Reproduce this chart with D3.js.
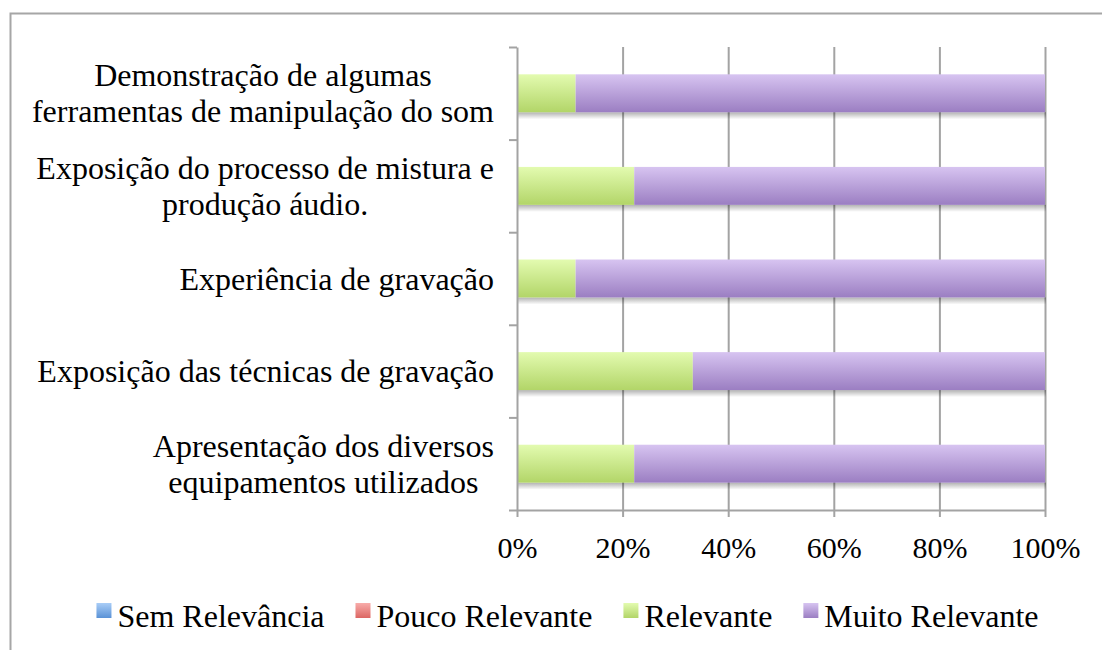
<!DOCTYPE html>
<meta charset="utf-8">
<script src="https://d3js.org/d3.v7.min.js"></script>
<style>
  body { margin: 0; background: #fff; }
</style>
<div id="chart"></div>
<script>

// data (percent of answers)
var categories = [
  "Demonstração de algumas|ferramentas de manipulação do som",
  "Exposição do processo de mistura e|produção áudio.",
  "Experiência de gravação",
  "Exposição das técnicas de gravação",
  "Apresentação dos diversos|equipamentos utilizados"
];
var seriesNames = ["Sem Relevância", "Pouco Relevante", "Relevante", "Muito Relevante"];
var semRelevancia = [0, 0, 0, 0, 0];
var poucoRelevante = [0, 0, 0, 0, 0];
var relevante = [11.1, 22.2, 11.1, 33.3, 22.2];
var muitoRelevante = [88.9, 77.8, 88.9, 66.7, 77.8];
var xTicks = [0, 20, 40, 60, 80, 100];

var FONT = "Liberation Serif";

// gradient stops (top, bottom) per series
var grads = [
  ["#a9cdf7", "#5a92d6"],
  ["#f8acaa", "#dc6663"],
  ["#e3fbb0", "#b2d568"],
  ["#d7c4f1", "#9b7ec2"]
];

var W = 1102, H = 650;
var margin = {top: 47, right: 57, bottom: 140, left: 517};
var width = W - margin.left - margin.right,
    height = H - margin.top - margin.bottom;

var svg = d3.select("#chart").append("svg")
  .attr("width", W).attr("height", H)
  .style("font-family", FONT);

var defs = svg.append("defs");
grads.forEach(function(g, i) {
  var lg = defs.append("linearGradient").attr("id", "g" + i)
    .attr("x1", 0).attr("y1", 0).attr("x2", 0).attr("y2", 1);
  lg.append("stop").attr("offset", "0%").attr("stop-color", g[0]);
  lg.append("stop").attr("offset", "100%").attr("stop-color", g[1]);
});
// soft shadow under the bars
var sh = defs.append("linearGradient").attr("id", "shade")
  .attr("x1", 0).attr("y1", 0).attr("x2", 0).attr("y2", 1);
sh.append("stop").attr("offset", "0%").attr("stop-color", "#000").attr("stop-opacity", 0.3);
sh.append("stop").attr("offset", "100%").attr("stop-color", "#000").attr("stop-opacity", 0);

// outer frame
svg.append("rect")
  .attr("x", 10.5).attr("y", 13.5).attr("width", 1200).attr("height", 800)
  .attr("fill", "none").attr("stroke", "#a6a6a6").attr("stroke-width", 2);

var g = svg.append("g")
  .attr("transform", "translate(" + margin.left + "," + margin.top + ")");

var x = d3.scaleLinear().domain([0, 100]).range([0, width]);
var y = d3.scaleBand().domain(categories).range([0, height])
  .paddingInner(0.59).paddingOuter(0.295);
var yEdge = d3.scaleLinear().domain([0, categories.length]).range([0, height]);

// gridlines
g.append("g")
  .call(d3.axisBottom(x).tickValues(xTicks.slice(1)).tickSize(height).tickFormat(""))
  .call(function(s) { s.select(".domain").remove(); })
  .selectAll("line").attr("stroke", "#a3a3a3").attr("stroke-width", 2);

// stacked bars
var table = categories.map(function(c, i) {
  return {cat: c, s0: semRelevancia[i], s1: poucoRelevante[i], s2: relevante[i], s3: muitoRelevante[i]};
});
var stack = d3.stack().keys(["s0", "s1", "s2", "s3"])(table);

// shadow strip below each bar
g.append("g").selectAll("rect").data(categories).enter().append("rect")
  .attr("x", x(0) + 1)
  .attr("y", function(c) { return y(c) + y.bandwidth(); })
  .attr("width", x(100) - x(0))
  .attr("height", 7)
  .attr("fill", "url(#shade)");

g.append("g")
  .selectAll("g").data(stack).enter().append("g")
    .attr("fill", function(d, i) { return "url(#g" + i + ")"; })
  .selectAll("rect").data(function(d) { return d; }).enter().append("rect")
    .attr("x", function(d) { return x(d[0]); })
    .attr("y", function(d) { return y(d.data.cat); })
    .attr("width", function(d) { return x(d[1]) - x(d[0]); })
    .attr("height", y.bandwidth());

// left axis (ticks at category edges)
var yAxis = g.append("g")
  .call(d3.axisLeft(yEdge).tickValues(d3.range(categories.length + 1)).tickSize(8).tickSizeOuter(0).tickFormat(""));
yAxis.select(".domain").attr("stroke", "#a3a3a3").attr("stroke-width", 2);
yAxis.selectAll("line").attr("stroke", "#a3a3a3").attr("stroke-width", 2);

// bottom axis
var xAxis = g.append("g")
  .attr("transform", "translate(0," + height + ")")
  .call(d3.axisBottom(x).tickValues(xTicks).tickSize(7).tickSizeOuter(0)
    .tickFormat(function(d) { return d + "%"; }));
xAxis.attr("font-family", null).attr("font-size", null);
xAxis.select(".domain").attr("stroke", "#a3a3a3").attr("stroke-width", 2);
xAxis.selectAll("line").attr("stroke", "#a3a3a3").attr("stroke-width", 2);
xAxis.selectAll("text")
  .attr("y", 0).attr("dy", 0)
  .attr("transform", "translate(0,48)")
  .attr("fill", "#000")
  .style("font-family", FONT).style("font-size", "30px");

// category labels: block right-aligned, lines centred within it
var labelRight = -23, lineH = 36;
categories.forEach(function(c) {
  var lines = c.split("|");
  var t = g.append("text").attr("text-anchor", "middle").attr("fill", "#000")
    .style("font-family", FONT).style("font-size", "32px");
  var spans = lines.map(function(l) {
    return t.append("tspan").text(l);
  });
  var maxW = d3.max(spans, function(s) { return s.node().getComputedTextLength(); });
  var cy = y(c) + y.bandwidth() / 2;
  var y0 = cy + 11 - (lines.length - 1) * lineH / 2;
  spans.forEach(function(s, j) {
    s.attr("x", labelRight - maxW / 2).attr("y", y0 + j * lineH);
  });
});

// legend
var legend = svg.append("g");
var items = legend.selectAll("g").data(seriesNames).enter().append("g");
items.append("rect").attr("width", 15).attr("height", 15).attr("y", -15)
  .attr("fill", function(d, i) { return "url(#g" + i + ")"; });
items.append("text").attr("x", 21).attr("y", 9).attr("fill", "#000")
  .style("font-family", FONT).style("font-size", "32px")
  .text(function(d) { return d; });
var gap = 31, pos = 0;
items.each(function() {
  var w = this.getBBox().width;
  this.__x = pos;
  pos += w + gap;
});
var total = pos - gap, start = 567.5 - total / 2;
items.attr("transform", function() { return "translate(" + (start + this.__x) + ",618)"; });

</script>
